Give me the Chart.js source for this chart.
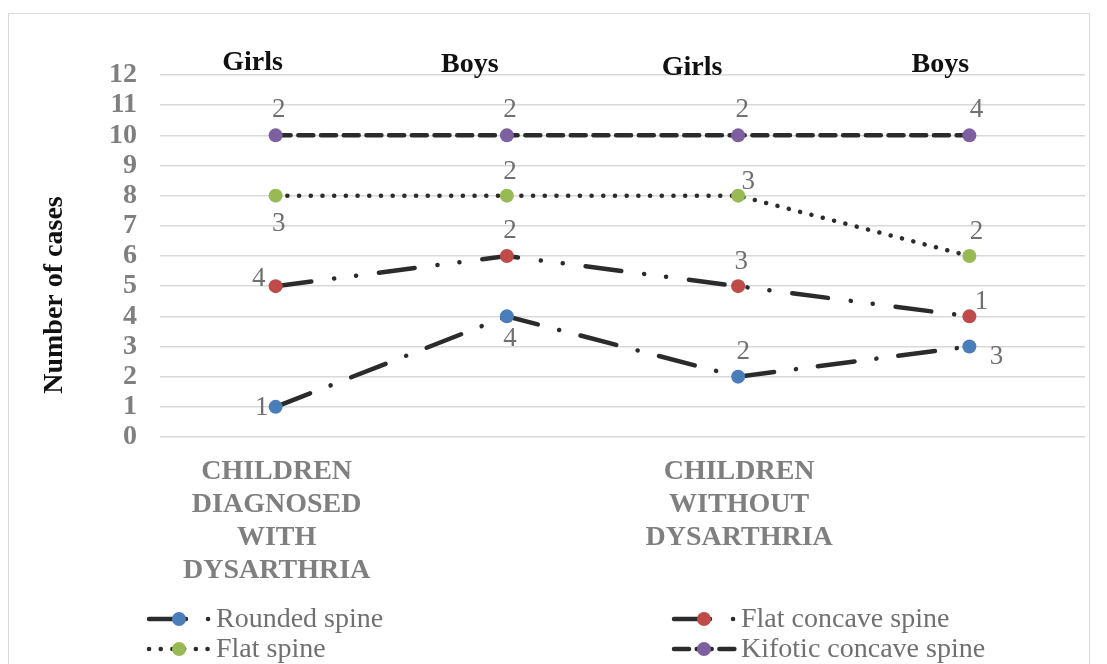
<!DOCTYPE html>
<html>
<head>
<meta charset="utf-8">
<script src="https://cdn.jsdelivr.net/npm/chart.js@4.4.1/dist/chart.umd.min.js"></script>
<style>
  body { margin: 0; background: #fff; }
  #wrap { position: relative; width: 1107px; height: 664px; overflow: hidden; }
  #frame { position: absolute; left: 8px; top: 13px; width: 1082px; height: 700px; border: 1px solid #d9d9d9; box-sizing: border-box; }
  canvas { position: absolute; left: 0; top: 0; }
</style>
</head>
<body>
<div id="wrap">
  <div id="frame"></div>
  <canvas id="spineChart" width="1107" height="664"></canvas>
</div>
<script>
const categories = ["Girls", "Boys", "Girls", "Boys"];
const groupLabels = [
  ["CHILDREN", "DIAGNOSED", "WITH", "DYSARTHRIA"],
  ["CHILDREN", "WITHOUT", "DYSARTHRIA"],
];
const yTicks = [0, 1, 2, 3, 4, 5, 6, 7, 8, 9, 10, 11, 12];

const roundedSpine = [1, 4, 2, 3];
const flatConcaveSpine = [5, 6, 5, 4];
const flatSpine = [8, 8, 8, 6];
const kifoticConcaveSpine = [10, 10, 10, 10];

// numbers of cases written next to each point
const roundedCases = [1, 4, 2, 3];
const flatConcaveCases = [4, 2, 3, 1];
const flatCases = [3, 2, 3, 2];
const kifoticCases = [2, 2, 2, 4];

const lineColor = "#2b2b2b";
const serif = "'Liberation Serif', 'DejaVu Serif', serif";

// where each case number sits relative to its point (dx, dy)
const labelOffsets = [
  [[-14, 1], [3, 23], [5, -25], [27, 10]],
  [[-17, -7], [3, -25], [3, -24], [12, -14]],
  [[3, 28], [3, -24], [10, -14], [7, -24]],
  [[3, -25], [3, -25], [4, -25], [7, -25]],
];
const topLabelPos = [[-23, 70], [-37, 72], [-46, 75], [-29, 72]];

function makeSet(label, data, cases, color, dash) {
  return {
    label: label,
    data: data,
    cases: cases,
    borderColor: lineColor,
    borderWidth: 4.5,
    borderDash: dash,
    borderCapStyle: "round",
    backgroundColor: color,
    pointBackgroundColor: color,
    pointBorderColor: color,
    pointBorderWidth: 0,
    pointRadius: 7,
    tension: 0,
    fill: false,
  };
}

const datasets = [
  makeSet("Rounded spine", roundedSpine, roundedCases, "#4a7ebb", [37, 22, 0.1, 22]),
  makeSet("Flat concave spine", flatConcaveSpine, flatConcaveCases, "#be4b48", [36, 23, 0.1, 22, 0.1, 23]),
  makeSet("Flat spine", flatSpine, flatCases, "#98b954", [0.1, 11.6]),
  makeSet("Kifotic concave spine", kifoticConcaveSpine, kifoticCases, "#7d60a0", [15, 7.7]),
];

const extras = {
  id: "extras",
  afterDatasetsDraw(chart) {
    const ctx = chart.ctx;
    const xs = chart.scales.x;
    ctx.save();

    // case numbers
    ctx.font = "27px " + serif;
    ctx.fillStyle = "#707070";
    ctx.textAlign = "center";
    ctx.textBaseline = "middle";
    chart.data.datasets.forEach((ds, d) => {
      const meta = chart.getDatasetMeta(d);
      meta.data.forEach((pt, i) => {
        const off = labelOffsets[d][i];
        ctx.fillText(String(ds.cases[i]), pt.x + off[0], pt.y + off[1]);
      });
    });

    // Girls / Boys on top
    ctx.font = "bold 28px " + serif;
    ctx.fillStyle = "#111";
    ctx.textBaseline = "alphabetic";
    categories.forEach((c, i) => {
      const p = topLabelPos[i];
      ctx.fillText(c, xs.getPixelForValue(i) + p[0], p[1]);
    });

    // group labels under the axis
    ctx.fillStyle = "#7f7f7f";
    ctx.textBaseline = "middle";
    groupLabels.forEach((lines, g) => {
      const x = xs.getPixelForValue(g * 2);
      lines.forEach((t, k) => ctx.fillText(t, x + 1, 472 + k * 33));
    });

    // y title
    ctx.save();
    ctx.translate(55, 295);
    ctx.rotate(-Math.PI / 2);
    ctx.fillStyle = "#111";
    ctx.fillText("Number of cases", 0, 0);
    ctx.restore();

    // legend, two columns
    const cols = [147, 672];
    const rows = [619, 649];
    chart.data.datasets.forEach((ds, d) => {
      const x0 = cols[d % 2];
      const y = rows[Math.floor(d / 2)];
      ctx.save();
      ctx.strokeStyle = ds.borderColor;
      ctx.lineWidth = ds.borderWidth;
      ctx.lineCap = "round";
      ctx.setLineDash(ds.borderDash);
      ctx.beginPath();
      ctx.moveTo(x0 + 2, y);
      ctx.lineTo(x0 + 64, y);
      ctx.stroke();
      ctx.restore();
      ctx.beginPath();
      ctx.fillStyle = ds.pointBackgroundColor;
      ctx.arc(x0 + 32, y, 7, 0, Math.PI * 2);
      ctx.fill();
      ctx.font = "28px " + serif;
      ctx.fillStyle = "#707070";
      ctx.textAlign = "left";
      ctx.textBaseline = "middle";
      ctx.fillText(ds.label, x0 + 69, y + 1);
    });
    ctx.restore();
  },
};

new Chart(document.getElementById("spineChart"), {
  type: "line",
  data: { labels: categories, datasets: datasets },
  options: {
    responsive: false,
    animation: false,
    layout: { padding: { left: 38, right: 22, top: 75, bottom: 227 } },
    plugins: { legend: { display: false }, tooltip: { enabled: false } },
    scales: {
      x: { display: false, offset: true },
      y: {
        min: 0,
        max: 12,
        afterBuildTicks: (s) => { s.ticks = yTicks.map((v) => ({ value: v })); },
        afterFit: (s) => { s.width = 122; },
        grid: { color: "#d9d9d9", lineWidth: 1.4, drawTicks: false },
        border: { display: false },
        ticks: {
          autoSkip: false,
          padding: 23,
          color: "#7f7f7f",
          font: { family: serif, size: 28, weight: "bold" },
        },
      },
    },
  },
  plugins: [extras],
});
</script>
</body>
</html>
